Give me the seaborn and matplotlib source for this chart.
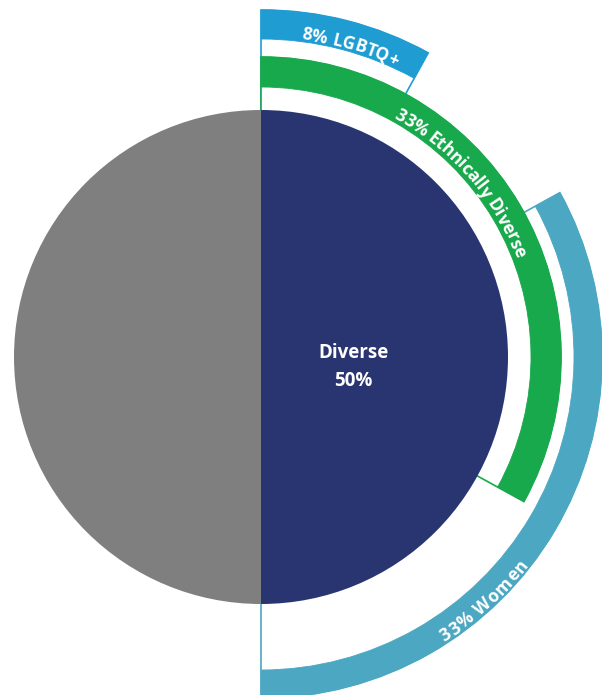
import numpy as np
import matplotlib
matplotlib.use("Agg")
import matplotlib.pyplot as plt
import seaborn as sns
from matplotlib.patches import Wedge
from matplotlib.font_manager import FontProperties
from matplotlib.textpath import TextToPath

sns.set_theme(style="white")
plt.rcParams['font.family'] = ['Open Sans', 'DejaVu Sans']

# ---- data ----
pie_labels = ["Diverse", "Other"]
pie_values = [50, 50]
ring_labels = ["LGBTQ+", "Ethnically Diverse", "Women"]
ring_values = [8, 33, 33]

# ---- style ----
W, H, DPI = 602, 695, 100
cx, cy = 261, H - 357
R = 247
navy, gray = "#293571", "#7f7f7f"
c_lgbt, c_eth, c_women = "#1f9dd3", "#18a94c", "#4ca7c3"

fig = plt.figure(figsize=(W / DPI, H / DPI), dpi=DPI)
ax = fig.add_axes([0, 0, 1, 1])

# clock angles (degrees from 12 o'clock, clockwise)
lg_a0, lg_a1 = 0, ring_values[0] * 3.6
et_a0, et_a1 = 0, ring_values[1] * 3.6
wo_a1 = 180
wo_a0 = wo_a1 - ring_values[2] * 3.6

def th(a):
    return 90 - a

def ring(a0, a1, r_band_in, r_out, color, z):
    # white wedge with thin colored outline
    ax.add_patch(Wedge((cx, cy), r_out, th(a1), th(a0), facecolor="white",
                       edgecolor=color, linewidth=1.2, zorder=z))
    # thick band
    ax.add_patch(Wedge((cx, cy), r_out, th(a1), th(a0), width=r_out - r_band_in,
                       facecolor=color, edgecolor=color, linewidth=0.6, zorder=z + 0.1))

ring(lg_a0, lg_a1, 318, 347, c_lgbt, 1)
ring(wo_a0, wo_a1, 313, 341, c_women, 2)
ring(et_a0, et_a1, 270, 300, c_eth, 3)

ax.pie(pie_values, colors=[navy, gray], startangle=90, counterclock=False,
       radius=R, center=(cx, cy), wedgeprops=dict(linewidth=0, zorder=5),
       frame=True)
for p in ax.patches[-2:]:
    p.set_zorder(5)

ax.set_xlim(0, W)
ax.set_ylim(0, H)
ax.set_aspect("equal")
ax.axis("off")

# ---- curved text ----
fp = FontProperties(family="Open Sans", weight="bold", size=12.5)
t2p = TextToPath()

def width_px(s):
    if not s:
        return 0.0
    w, h, d = t2p.get_text_width_height_descent(s, fp, ismath=False)
    return w * DPI / 72.0

def curved(text, r, a_center, outward=True, color="white", track=0.0):
    total = width_px(text) + track * (len(text) - 1)
    ang_total = np.degrees(total / r)
    for i, ch in enumerate(text):
        s = (width_px(text[:i]) + width_px(text[:i + 1])) / 2 + track * i
        da = np.degrees(s / r) - ang_total / 2
        if outward:
            a = a_center + da
            rot = -a
        else:
            a = a_center - da
            rot = 180 - a
        ar = np.radians(a)
        x = cx + r * np.sin(ar)
        y = cy + r * np.cos(ar)
        ax.text(x, y, ch, fontproperties=fp, color=color, rotation=rot,
                rotation_mode="anchor", ha="center", va="center_baseline", zorder=10)

curved(f"{ring_values[0]}% {ring_labels[0]}", 327, 16, outward=True, track=0.5)
curved(f"{ring_values[1]}% {ring_labels[1]}", 280, 49, outward=True, track=0.0)
curved(f"{ring_values[2]}% {ring_labels[2]}", 332, 137.5, outward=False, track=0.8)

ax.text(cx + 92, cy - 10, f"{pie_labels[0]}\n{pie_values[0]}%", color="white",
        fontsize=13.5, fontweight="bold", ha="center", va="center",
        linespacing=1.55, zorder=10)

fig.savefig("out.png", dpi=DPI)
